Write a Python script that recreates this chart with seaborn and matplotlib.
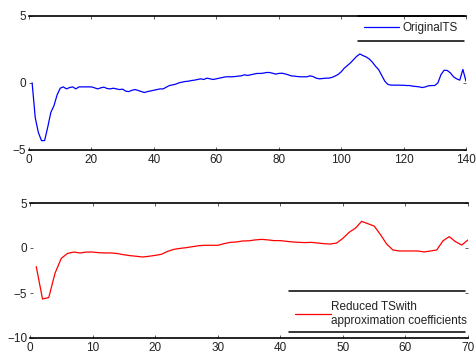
import numpy as np
import pandas as pd
import matplotlib
matplotlib.use("Agg")
import matplotlib.pyplot as plt
from matplotlib.lines import Line2D
import seaborn as sns

# ---- data ----
orig_vals = [0.0, -2.6, -3.7, -4.3, -4.3, -3.3, -2.2, -1.7, -0.9, -0.4,
             -0.3, -0.45, -0.35, -0.3, -0.45, -0.3, -0.3, -0.3, -0.3, -0.3,
             -0.37, -0.45, -0.37, -0.32, -0.42, -0.45, -0.4, -0.45, -0.5, -0.47,
             -0.62, -0.65, -0.55, -0.5, -0.57, -0.65, -0.72, -0.65, -0.6, -0.55,
             -0.5, -0.45, -0.45, -0.32, -0.2, -0.15, -0.1, 0.0, 0.05, 0.1,
             0.12, 0.17, 0.2, 0.25, 0.3, 0.25, 0.35, 0.3, 0.25, 0.3,
             0.35, 0.4, 0.45, 0.45, 0.45, 0.47, 0.5, 0.52, 0.6, 0.55,
             0.6, 0.65, 0.7, 0.7, 0.72, 0.77, 0.77, 0.72, 0.65, 0.7,
             0.72, 0.67, 0.6, 0.52, 0.5, 0.47, 0.45, 0.45, 0.45, 0.52,
             0.47, 0.35, 0.3, 0.32, 0.35, 0.35, 0.4, 0.5, 0.62, 0.82,
             1.09, 1.29, 1.49, 1.73, 1.98, 2.15, 2.03, 1.93, 1.78, 1.54,
             1.24, 0.99, 0.55, 0.12, -0.12, -0.17, -0.17, -0.17, -0.18, -0.18,
             -0.2, -0.2, -0.25, -0.27, -0.3, -0.35, -0.3, -0.22, -0.2, -0.2,
             0.0, 0.62, 0.94, 0.92, 0.74, 0.45, 0.3, 0.2, 1.0, 0.12]
orig_x = list(range(1, len(orig_vals) + 1))

red_vals = [-2.07, -5.67, -5.5, -2.8, -1.15, -0.6, -0.45, -0.55, -0.45, -0.45,
            -0.52, -0.55, -0.55, -0.62, -0.75, -0.85, -0.92, -1.0, -0.92, -0.82,
            -0.7, -0.37, -0.15, -0.04, 0.04, 0.15, 0.26, 0.3, 0.3, 0.3,
            0.48, 0.63, 0.67, 0.78, 0.8, 0.9, 0.96, 0.9, 0.82, 0.82,
            0.74, 0.67, 0.63, 0.6, 0.63, 0.55, 0.48, 0.44, 0.55, 1.07,
            1.74, 2.2, 2.96, 2.7, 2.44, 1.5, 0.44, -0.22, -0.33, -0.33,
            -0.33, -0.33, -0.44, -0.33, -0.22, 0.8, 1.26, 0.7, 0.33, 0.9]
red_x = list(range(1, len(red_vals) + 1))

top_xticks = [0, 20, 40, 60, 80, 100, 120, 140]
top_yticks = [-5, 0, 5]
bot_xticks = [0, 10, 20, 30, 40, 50, 60, 70]
bot_yticks = [-10, -5, 0, 5]

label_top = "OriginalTS"
label_bot = "Reduced TSwith\napproximation coefficients"

# ---- style ----
sns.set_theme(style="white")
plt.rcParams['font.family'] = ['Liberation Sans', 'DejaVu Sans']
FS = 8.5

fig = plt.figure(figsize=(4.76, 3.58), dpi=100)
W, H = 476, 358
ax1 = fig.add_axes([29 / W, 1 - 150 / H, (466 - 29) / W, (150 - 15.7) / H])
ax2 = fig.add_axes([30 / W, 1 - 338 / H, (468 - 30) / W, (338 - 203) / H])

df1 = pd.DataFrame({"x": orig_x, "y": orig_vals})
df2 = pd.DataFrame({"x": red_x, "y": red_vals})
sns.lineplot(data=df1, x="x", y="y", ax=ax1, color=(0, 0, 1), lw=0.9, label=label_top)
sns.lineplot(data=df2, x="x", y="y", ax=ax2, color=(1, 0, 0), lw=0.9, label=label_bot)

def style(ax, xt, yt):
    ax.set_xlim(xt[0], xt[-1])
    ax.set_ylim(yt[0], yt[-1])
    ax.set_xticks(xt)
    ax.set_yticks(yt)
    ax.set_xlabel("")
    ax.set_ylabel("")
    ax.set_facecolor("none")
    for s in ["left", "right"]:
        ax.spines[s].set_visible(False)
    for s in ["top", "bottom"]:
        ax.spines[s].set_visible(True)
        ax.spines[s].set_color("black")
        ax.spines[s].set_linewidth(1.2)
    ax.tick_params(axis="both", which="both", direction="in", length=2.5, width=0.6,
                   color="#444444", top=True, right=True, bottom=True, left=True,
                   labelsize=FS, labelcolor="#222222", pad=3)
    ax.tick_params(axis="y", pad=2)
    ax.grid(False)

style(ax1, top_xticks, top_yticks)
style(ax2, bot_xticks, bot_yticks)

leg1 = ax1.legend(loc="upper right", bbox_to_anchor=(0.995, 1.0), borderaxespad=0,
                  fontsize=FS, handlelength=2.9, handletextpad=0.3, borderpad=0.55,
                  frameon=True, fancybox=False)
leg2 = ax2.legend(loc="lower right", bbox_to_anchor=(0.998, 0.085), borderaxespad=0,
                  fontsize=FS, handlelength=3.1, handletextpad=0.0, borderpad=0.0,
                  frameon=True, fancybox=False, labelspacing=0.2)
for leg in (leg1, leg2):
    leg.get_frame().set_edgecolor("none")
    leg.get_frame().set_facecolor("none")
    for t in leg.get_texts():
        t.set_color("#222222")

fig.canvas.draw()
inv = fig.transFigure.inverted()

def hlines(x0, x1, ys):
    for yy in ys:
        (fx0, fy), (fx1, _) = inv.transform([(x0, yy), (x1, yy)])
        fig.add_artist(Line2D([fx0, fx1], [fy, fy], transform=fig.transFigure,
                              color="black", lw=1.1))

bb1 = leg1.get_window_extent()
hlines(bb1.x0, bb1.x1, [bb1.y0, bb1.y1])
bb2 = leg2.get_window_extent()
hlines(bb2.x0 - 6, bb2.x1 - 2, [bb2.y0 - 5, bb2.y1 + 10])

fig.savefig("out.png", dpi=100, facecolor="white")
